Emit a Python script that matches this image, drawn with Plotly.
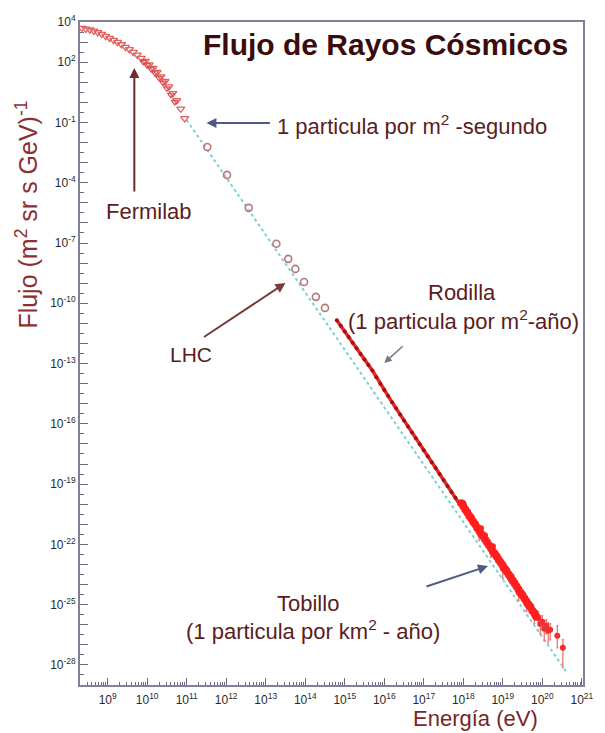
import plotly.graph_objects as go

# ---------------- data (log10 values) ----------------
# direct measurements, low energy part of the spectrum
low_logE = [8.35, 8.45, 8.55, 8.65, 8.75, 8.85, 8.95, 9.05, 9.15, 9.25, 9.35, 9.45,
            9.55, 9.65, 9.75, 9.85, 9.95, 10.05, 10.15, 10.25, 10.35, 10.45, 10.55,
            10.65, 10.75, 10.85, 10.95]
low_logF = [3.70, 3.66, 3.62, 3.56, 3.48, 3.40, 3.30, 3.20, 3.10, 3.00, 2.88, 2.75,
            2.64, 2.50, 2.36, 2.20, 2.05, 1.88, 1.70, 1.50, 1.28, 1.05, 0.78,
            0.45, 0.10, -0.32, -0.80]
low2_logE = [9.9, 10.0, 10.1, 10.2, 10.3, 10.4, 10.5, 10.6, 10.7]
low2_logF = [2.02, 1.85, 1.66, 1.45, 1.22, 0.98, 0.70, 0.38, 0.02]

# balloon / satellite points (open markers)
mid_logE = [11.52, 12.02, 12.57, 13.27, 13.57, 13.75, 13.97, 14.27, 14.50]
mid_logF = [-2.22, -3.61, -5.25, -7.04, -7.79, -8.29, -8.94, -9.68, -10.23]

# air shower data around the knee
knee_logE = [14.8, 14.9, 15.0, 15.1, 15.2, 15.3, 15.4, 15.5, 15.6, 15.7, 15.8, 15.9,
             16.0, 16.1, 16.2, 16.3, 16.4, 16.5, 16.6, 16.7, 16.8, 16.9, 17.0, 17.1,
             17.2, 17.3, 17.4, 17.5, 17.6, 17.7, 17.8, 17.9]
knee_logF = [-10.85, -11.12, -11.40, -11.68, -11.96, -12.24, -12.52, -12.80, -13.07,
             -13.35, -13.68, -14.00, -14.32, -14.62, -14.93, -15.23, -15.53, -15.83,
             -16.13, -16.43, -16.72, -17.02, -17.32, -17.61, -17.91, -18.20, -18.50,
             -18.80, -19.09, -19.39, -19.68, -19.98]

# ultra high energy band
tail_logE = [17.95, 18.0, 18.05, 18.1, 18.15, 18.2, 18.25, 18.3, 18.35, 18.4, 18.45,
             18.5, 18.55, 18.6, 18.65, 18.7, 18.75, 18.8, 18.85, 18.9, 18.95, 19.0,
             19.05, 19.1, 19.15, 19.2, 19.25, 19.3, 19.35, 19.4, 19.45, 19.5, 19.55,
             19.6, 19.65, 19.7, 19.75, 19.8, 19.85]
tail_logF = [-19.95, -20.10, -20.27, -20.40, -20.57, -20.70, -20.88, -21.00, -21.17,
             -21.30, -21.47, -21.60, -21.75, -21.90, -22.05, -22.18, -22.35, -22.48,
             -22.62, -22.78, -22.92, -23.05, -23.22, -23.35, -23.50, -23.63, -23.80,
             -23.95, -24.10, -24.25, -24.42, -24.55, -24.70, -24.85, -25.00, -25.12,
             -25.30, -25.42, -25.60]

# other experiments with error bars (log10 values, error sizes in decades)
exp_logE = [18.0, 18.2, 18.4, 18.45, 18.55, 18.7, 18.75, 18.9, 19.0, 19.1, 19.2, 19.3,
            19.4, 19.5, 19.6, 19.7, 19.8, 19.9, 19.95, 20.0, 20.05, 20.1, 20.15, 20.2,
            20.38, 20.52]
exp_logF = [-19.95, -20.62, -21.40, -21.20, -21.55, -22.25, -22.10, -22.70, -23.20,
            -23.25, -23.75, -23.85, -24.40, -24.45, -24.95, -25.05, -25.55, -25.65,
            -25.95, -25.85, -26.20, -26.05, -26.30, -26.25, -26.55, -27.14]
exp_up = [0.05, 0.1, 0.3, 0.1, 0.1, 0.3, 0.1, 0.1, 0.4, 0.1, 0.2, 0.1,
          0.3, 0.2, 0.3, 0.2, 0.3, 0.3, 0.3, 0.3, 0.4, 0.3, 0.4, 0.3, 0.5, 0.4]
exp_down = [0.05, 0.1, 0.4, 0.1, 0.1, 0.4, 0.1, 0.1, 0.5, 0.1, 0.2, 0.1,
            0.4, 0.2, 0.4, 0.3, 0.4, 0.4, 0.5, 0.4, 0.6, 0.4, 0.6, 0.5, 0.6, 1.0]

# power law guide line (dotted)
fit_logE = [11.0, 20.62]
fit_logF = [-0.88, -28.38]

y_tick_exp = [4, 2, -1, -4, -7, -10, -13, -16, -19, -22, -25, -28]
x_tick_exp = list(range(9, 22))

# ---------------- figure ----------------
def lin(v):
    return [10 ** a for a in v]

fig = go.Figure()

fig.add_trace(go.Scatter(x=lin(fit_logE), y=lin(fit_logF), mode="lines",
                         line=dict(color="#7fcfcf", width=2, dash="dot")))

fig.add_trace(go.Scatter(x=lin(low_logE), y=lin(low_logF), mode="markers",
                         marker=dict(symbol="triangle-down-open", size=7,
                                     color="#e06060", line=dict(width=1.3))))
fig.add_trace(go.Scatter(x=lin(low2_logE), y=lin(low2_logF), mode="markers",
                         marker=dict(symbol="triangle-down-open", size=6,
                                     color="#e34a4a", line=dict(width=1.2))))

fig.add_trace(go.Scatter(x=lin(mid_logE), y=lin(mid_logF), mode="markers",
                         marker=dict(symbol="circle-open", size=7, color="#b87878",
                                     line=dict(width=1.6))))

fig.add_trace(go.Scatter(x=lin(knee_logE), y=lin(knee_logF), mode="markers+lines",
                         line=dict(color="#ec2424", width=3.5),
                         marker=dict(symbol="circle", size=4, color="#9a1414")))

exp_F = lin(exp_logF)
err_plus = [10 ** (f + u) - 10 ** f for f, u in zip(exp_logF, exp_up)]
err_minus = [10 ** f - 10 ** (f - d) for f, d in zip(exp_logF, exp_down)]
fig.add_trace(go.Scatter(x=lin(exp_logE), y=exp_F, mode="markers",
                         marker=dict(symbol="circle", size=6, color="#f03030"),
                         error_y=dict(type="data", symmetric=False, array=err_plus,
                                      arrayminus=err_minus, color="#e87878",
                                      thickness=1.3, width=1)))

fig.add_trace(go.Scatter(x=lin(tail_logE), y=lin(tail_logF), mode="markers+lines",
                         line=dict(color="#ff1a1a", width=6),
                         marker=dict(symbol="circle", size=8, color="#ff1f1f")))

txt_col = "#5a1d1d"
font_base = "Liberation Sans, Arial, sans-serif"
ann_size = 22

annotations = [
    dict(x=16.04, y=2.86, text="<b>Flujo de Rayos Cósmicos</b>", showarrow=False,
         font=dict(size=30, color="#3b0c0c", family=font_base)),
    dict(x=13.225, y=-1.13, text="1 particula por m<sup>2</sup> -segundo", showarrow=False,
         xanchor="left", font=dict(size=ann_size, color=txt_col, family=font_base)),
    dict(x=10.05, y=-5.41, text="Fermilab", showarrow=False,
         font=dict(size=ann_size, color=txt_col, family=font_base)),
    dict(x=11.1, y=-12.53, text="LHC", showarrow=False,
         font=dict(size=ann_size - 1, color=txt_col, family=font_base)),
    dict(x=17.975, y=-9.44, text="Rodilla", showarrow=False,
         font=dict(size=ann_size, color=txt_col, family=font_base)),
    dict(x=18.0, y=-10.83, text="(1 particula por m<sup>2</sup>-año)", showarrow=False,
         font=dict(size=ann_size, color=txt_col, family=font_base)),
    dict(x=14.075, y=-24.92, text="Tobillo", showarrow=False,
         font=dict(size=ann_size, color=txt_col, family=font_base)),
    dict(x=14.2, y=-26.26, text="(1 particula por km<sup>2</sup> - año)", showarrow=False,
         font=dict(size=ann_size, color=txt_col, family=font_base)),
    # arrows
    dict(x=11.5, y=-1.03, ax=65, ay=0, text="", showarrow=True, arrowhead=2,
         arrowsize=1, arrowwidth=2, arrowcolor="#4f5b85"),
    dict(x=9.675, y=1.71, ax=0, ay=125, text="", showarrow=True, arrowhead=2,
         arrowsize=1, arrowwidth=2, arrowcolor="#6b2d2d"),
    dict(x=13.5, y=-8.99, ax=-83, ay=55, text="", showarrow=True, arrowhead=2,
         arrowsize=1, arrowwidth=2, arrowcolor="#7a3a3a"),
    dict(x=16.0, y=-12.97, ax=20, ay=-18, text="", showarrow=True, arrowhead=2,
         arrowsize=1, arrowwidth=1.5, arrowcolor="#77778a"),
    dict(x=18.625, y=-23.08, ax=-63, ay=21, text="", showarrow=True, arrowhead=2,
         arrowsize=1, arrowwidth=2, arrowcolor="#4f5b85"),
    # axis titles
    dict(xref="paper", yref="paper", x=-0.106, y=0.709, textangle=-90,
         xanchor="center", yanchor="middle",
         text="Flujo (m<sup>2</sup> sr s GeV)<sup>-1</sup>", showarrow=False,
         font=dict(size=25, color="#8e2f2f", family=font_base)),
    dict(xref="paper", yref="paper", x=0.786, y=-0.0724, xanchor="center",
         yanchor="bottom", text="Energía (eV)", showarrow=False,
         font=dict(size=22, color="#7a2424", family=font_base)),
]

y_all = list(range(-29, 5))
y_major_vals = [10.0 ** k for k in y_all]
y_major_text = [("10<sup>%d</sup>" % k) if k in y_tick_exp else "" for k in y_all]
y_minor_vals = [10.0 ** (k + 0.5) for k in range(-29, 4)]

x_minor_vals = [m * 10.0 ** k for k in range(8, 21) for m in range(2, 10)]

axis_line = "#80809a"
fig.update_xaxes(type="log", range=[8.3, 21.03], showgrid=False, zeroline=False,
                 showline=True, mirror=True, linecolor=axis_line, linewidth=2,
                 ticks="inside", ticklen=7, tickwidth=1.2, tickcolor="#6a6a80",
                 tickmode="array", tickvals=[10.0 ** k for k in x_tick_exp],
                 ticktext=["10<sup>%d</sup>" % k for k in x_tick_exp],
                 ticklabelstandoff=3,
                 tickfont=dict(size=12, color="#2a2a2a", family=font_base),
                 minor=dict(tickvals=x_minor_vals, ticks="inside", ticklen=3,
                            tickcolor="#6a6a80", tickwidth=1))
fig.update_yaxes(type="log", range=[-29, 4], showgrid=False, zeroline=False,
                 showline=True, mirror=True, linecolor=axis_line, linewidth=2,
                 ticks="inside", ticklen=8, tickwidth=1.2, tickcolor="#6a6a80",
                 tickmode="array", tickvals=y_major_vals, ticktext=y_major_text,
                 tickfont=dict(size=12, color="#2a2a2a", family=font_base),
                 minor=dict(tickvals=y_minor_vals, ticks="inside", ticklen=4,
                            tickcolor="#6a6a80", tickwidth=1))

fig.update_layout(width=605, height=733, margin=dict(l=80, r=16, t=22, b=48),
                  paper_bgcolor="white", plot_bgcolor="white", showlegend=False,
                  annotations=annotations, font=dict(family=font_base))

fig.write_html("out.html")
